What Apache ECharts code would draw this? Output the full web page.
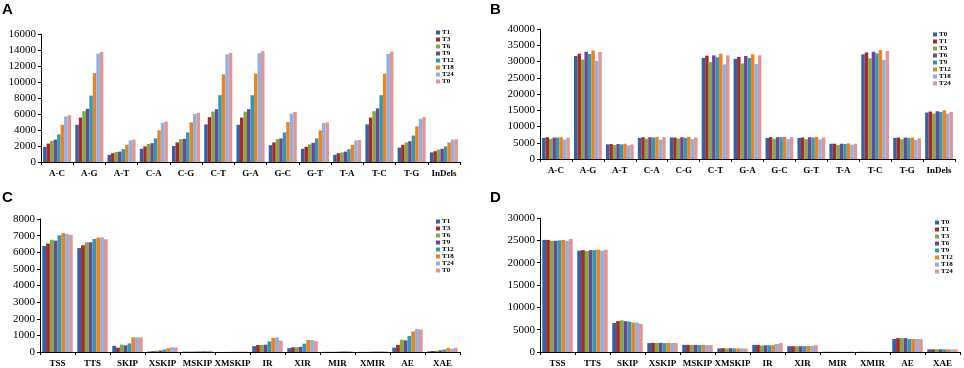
<!DOCTYPE html>
<html><head><meta charset="utf-8">
<script src="https://cdn.jsdelivr.net/npm/echarts@6/dist/echarts.min.js"></script>
<style>html,body{margin:0;padding:0;background:#fff}#c{width:964px;height:368px}</style>
</head><body><div id="c"></div>
<script>
// ---------- data ----------
const catsAB = ['A-C','A-G','A-T','C-A','C-G','C-T','G-A','G-C','G-T','T-A','T-C','T-G','InDels'];
const catsCD = ['TSS','TTS','SKIP','XSKIP','MSKIP','XMSKIP','IR','XIR','MIR','XMIR','AE','XAE'];
const namesAC = ['T1','T3','T6','T9','T12','T18','T24','T0'];
const namesBD = ['T0','T1','T3','T6','T9','T12','T18','T24'];

// Panel A (rows = categories, cols = series in namesAC order)
const valuesA = [
  [1900,2300,2650,2800,3450,4650,5700,5850],
  [4650,5550,6350,6650,8300,11100,13550,13750],
  [900,1100,1250,1300,1600,2150,2700,2800],
  [1650,1950,2250,2350,2950,3950,4900,5050],
  [2000,2450,2850,2900,3700,4950,6000,6150],
  [4700,5600,6300,6600,8350,10950,13450,13650],
  [4650,5550,6300,6600,8350,11050,13600,13850],
  [2100,2450,2850,2950,3700,5000,6050,6250],
  [1650,1900,2200,2400,2950,3950,4850,4950],
  [900,1100,1200,1300,1600,2150,2700,2750],
  [4700,5550,6350,6700,8350,11050,13500,13800],
  [1800,2150,2450,2600,3300,4450,5400,5600],
  [1200,1350,1550,1650,1950,2450,2800,2850]
];
// Panel B (cols in namesBD order)
const valuesB = [
  [6500,6700,6200,6600,6600,6700,6000,6600],
  [31700,32400,30600,33000,32300,33400,30200,32900],
  [4500,4600,4300,4600,4500,4700,4200,4500],
  [6500,6700,6200,6700,6600,6800,6000,6700],
  [6600,6600,6300,6700,6500,6800,6100,6600],
  [31100,31800,29800,31900,31300,32400,29100,31900],
  [30800,31400,29400,31700,31100,32200,29200,31900],
  [6500,6700,6200,6700,6700,6800,6100,6700],
  [6500,6600,6100,6700,6600,6800,6000,6600],
  [4700,4700,4300,4700,4600,4800,4400,4700],
  [32200,32800,31000,33000,32500,33500,30500,33200],
  [6500,6600,6100,6600,6500,6600,5900,6400],
  [14300,14600,14000,14700,14500,15000,14000,14500]
];
// Panel C (cols in namesAC order)
const valuesC = [
  [6380,6520,6750,6700,7020,7150,7100,7050],
  [6250,6420,6600,6600,6800,6880,6900,6780],
  [370,260,450,400,520,880,880,880],
  [30,50,80,90,150,230,280,270],
  [20,20,30,30,40,60,70,70],
  [5,5,10,10,15,20,25,25],
  [350,420,420,440,640,840,880,680],
  [230,280,280,310,500,720,720,650],
  [10,10,15,15,30,50,60,40],
  [10,10,15,15,30,40,50,40],
  [260,430,740,700,960,1240,1380,1350],
  [40,60,80,100,150,250,200,250]
];
// Panel D (cols in namesBD order)
const valuesD = [
  [25100,25100,24900,24900,25000,25100,24900,25300],
  [22700,22800,22600,22800,22800,22900,22700,22900],
  [6500,6900,7100,6900,6800,6600,6600,6300],
  [2000,2050,2050,2050,2000,2050,2000,2000],
  [1600,1600,1600,1600,1550,1600,1550,1550],
  [800,850,800,850,800,800,800,750],
  [1600,1600,1450,1500,1500,1550,1800,2000],
  [1300,1300,1300,1300,1300,1350,1350,1550],
  [50,50,50,50,50,50,50,100],
  [50,50,50,50,50,50,50,50],
  [2900,3100,3100,3100,2900,2900,2900,2900],
  [600,600,600,600,600,600,600,600]
];
const yMax = [16000, 40000, 8000, 30000];
const yStep = [2000, 5000, 1000, 5000];
const panelLetters = ['A','B','C','D'];

// ---------- styling ----------
const colors = ['#2f62a8','#a8292b','#82ab3c','#6a4896','#2f9ab5','#f0821e','#8fb0e0','#e39593'];
const serif = '"Liberation Serif","Times New Roman",serif';
const grids = [
  {left:41, top:34, right:504, bottom:206},
  {left:540, top:29, right:9, bottom:209},
  {left:40, top:219, right:504, bottom:16},
  {left:540, top:218, right:4, bottom:16}
];
const legendPos = [
  {left:436, top:29},
  {left:933, top:31},
  {left:436, top:218},
  {left:935, top:219}
];
const titlePos = [
  {left:2, top:2},{left:490, top:2},{left:2, top:190},{left:490, top:190}
];

const panels = [
  {cats:catsAB, names:namesAC, vals:valuesA},
  {cats:catsAB, names:namesBD, vals:valuesB},
  {cats:catsCD, names:namesAC, vals:valuesC},
  {cats:catsCD, names:namesBD, vals:valuesD}
];

const option = {
  animation:false,
  backgroundColor:'#fff',
  title: panels.map((p,i)=>({text:panelLetters[i], left:titlePos[i].left, top:titlePos[i].top, padding:0,
    textStyle:{fontFamily:'"Liberation Sans",Arial,sans-serif', fontWeight:'bold', fontSize:15, color:'#000'}})),
  grid: grids.map(g=>Object.assign({containLabel:false}, g)),
  xAxis: panels.map((p,i)=>({type:'category', gridIndex:i, data:p.cats,
    axisLine:{lineStyle:{color:'#000', width:1}},
    axisTick:{show:true, length:3, lineStyle:{color:'#000'}},
    axisLabel:{interval:0, margin:7, fontFamily:serif, fontWeight:'bold', fontSize:9, color:'#000'}})),
  yAxis: panels.map((p,i)=>({type:'value', gridIndex:i, min:0, max:yMax[i], interval:yStep[i],
    splitLine:{show:false},
    axisLine:{show:true, lineStyle:{color:'#000', width:1}},
    axisTick:{show:true, length:3, lineStyle:{color:'#000'}},
    axisLabel:{margin:5, fontFamily:serif, fontSize:11, color:'#000', formatter:(v)=>String(v)}})),
  legend: panels.map((p,i)=>({orient:'vertical', left:legendPos[i].left, top:legendPos[i].top,
    padding:0, itemGap:0, itemWidth:4, itemHeight:4, icon:'rect',
    data:p.names.map(n=>panelLetters[i]+':'+n),
    formatter:(n)=>n.split(':')[1],
    textStyle:{fontFamily:serif, fontWeight:'bold', fontSize:7, lineHeight:6.5, color:'#000', padding:[0,0,0,-3]}})),
  series: []
};

panels.forEach((p,i)=>{
  p.names.forEach((n,k)=>{
    option.series.push({
      type:'bar', name:panelLetters[i]+':'+n, xAxisIndex:i, yAxisIndex:i,
      data:p.vals.map(row=>row[k]),
      barGap:'0%', barCategoryGap:'13%',
      itemStyle:{color:colors[k]}
    });
  });
});

const chart = echarts.init(document.getElementById('c'), null, {renderer:'canvas'});
chart.setOption(option);
</script></body></html>
